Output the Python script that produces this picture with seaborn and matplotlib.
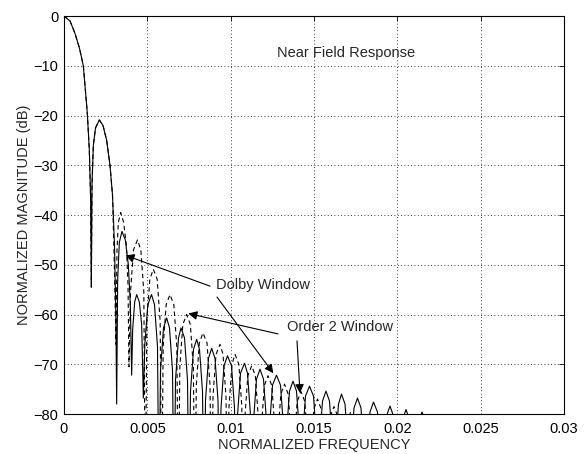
import matplotlib
matplotlib.use("Agg")
import matplotlib.pyplot as plt
import seaborn as sns

# values (normalized frequency, dB); nulls below -80 set to -100
dolby_f = [
    0, 0.00036, 0.00066, 0.00093, 0.00116, 0.0014, 0.00152, 0.0016, 0.00164,
    0.00168, 0.00176, 0.00189, 0.00212, 0.00234, 0.00256, 0.00276, 0.00291, 0.00303, 0.00311, 0.00316,
    0.00322, 0.00332, 0.00348, 0.00368, 0.00386, 0.00398, 0.00406,
    0.00412, 0.00424, 0.00436, 0.00452, 0.00466, 0.00476,
    0.00485, 0.00503, 0.00525, 0.00543, 0.00561, 0.0057,
    0.00579, 0.00597, 0.00616, 0.00633, 0.00651, 0.0066,
    0.00669, 0.00687, 0.00702, 0.00723, 0.00741, 0.0075,
    0.00759, 0.00777, 0.00796, 0.00813, 0.00831, 0.0084,
    0.00849, 0.00867, 0.00886, 0.00906, 0.00924, 0.00933,
    0.00942, 0.0096, 0.00981, 0.01005, 0.01023, 0.01032,
    0.01041, 0.01059, 0.01083, 0.01101, 0.01119, 0.01128,
    0.01137, 0.01155, 0.01176, 0.01197, 0.01215, 0.01224,
    0.01233, 0.01251, 0.01275, 0.01299, 0.01317, 0.01326,
    0.01335, 0.01353, 0.01374, 0.01395, 0.01413, 0.01422,
    0.01431, 0.01449, 0.01473, 0.01497, 0.01515, 0.01524,
    0.01533, 0.01551, 0.01572, 0.01593, 0.01611, 0.0162,
    0.01629, 0.01647, 0.01665, 0.01686, 0.01704, 0.01713,
    0.01722, 0.0174, 0.01761, 0.01782, 0.018, 0.01809,
    0.01818, 0.01836, 0.01857, 0.01881, 0.01899, 0.01908,
    0.01917, 0.01935, 0.01956, 0.01977, 0.01995, 0.02004,
    0.02013, 0.02031, 0.02052, 0.02073, 0.02091, 0.021,
    0.02109, 0.02127, 0.02148, 0.02169, 0.02187, 0.02196,
    0.03,
]
dolby_db = [
    0, -1, -3.5, -6.5, -10, -19.6, -27, -37, -54.5,
    -34, -26, -22.5, -20.9, -22, -25, -30, -36, -46, -60, -78,
    -53, -45.5, -43.3, -45, -50, -58, -72.2,
    -63, -57.5, -56, -57.5, -62, -76.8,
    -66, -58, -56, -58, -66.5, -100,
    -71.2, -62.7, -60.7, -62.7, -71.2, -100,
    -73.2, -64.7, -62.7, -64.7, -73.2, -100,
    -75.5, -67, -65, -67, -75.5, -100,
    -77.3, -68.8, -66.8, -68.8, -77.3, -100,
    -78.8, -70.3, -68.3, -70.3, -78.8, -100,
    -80.3, -71.8, -69.8, -71.8, -80.3, -100,
    -81.5, -73, -71, -73, -81.5, -100,
    -82.7, -74.2, -72.2, -74.2, -82.7, -100,
    -83.9, -75.4, -73.4, -75.4, -83.9, -100,
    -84.9, -76.4, -74.4, -76.4, -84.9, -100,
    -85.9, -77.4, -75.4, -77.4, -85.9, -100,
    -86.5, -78, -76, -78, -86.5, -100,
    -87.3, -78.8, -76.8, -78.8, -87.3, -100,
    -88.1, -79.6, -77.6, -79.6, -88.1, -100,
    -88.9, -80.4, -78.4, -80.4, -88.9, -100,
    -89.6, -81.1, -79.1, -81.1, -89.6, -100,
    -90.1, -81.6, -79.6, -81.6, -90.1, -100,
    -100,
]

order2_f = [
    0, 0.00036, 0.00066, 0.00093, 0.00116, 0.0014, 0.00152, 0.0016, 0.00164,
    0.00168, 0.00176, 0.00189, 0.00212, 0.00234, 0.00256, 0.00276, 0.00291, 0.00302, 0.00312,
    0.00318, 0.00326, 0.0034, 0.00358, 0.00374, 0.00384, 0.0039,
    0.00399, 0.00417, 0.00441, 0.00461, 0.00479, 0.00488,
    0.00497, 0.00515, 0.00536, 0.00559, 0.00577, 0.00586,
    0.00595, 0.00613, 0.00636, 0.00659, 0.00677, 0.00686,
    0.00695, 0.00713, 0.00736, 0.00758, 0.00776, 0.00785,
    0.00794, 0.00812, 0.00834, 0.00858, 0.00876, 0.00885,
    0.00894, 0.00912, 0.00936, 0.00954, 0.00972, 0.00981,
    0.0099, 0.01008, 0.01026, 0.01049, 0.01067, 0.01076,
    0.01085, 0.01103, 0.01126, 0.01148, 0.01166, 0.01175,
    0.01184, 0.01202, 0.01224, 0.01247, 0.01265, 0.01274,
    0.01283, 0.01301, 0.01323, 0.01345, 0.01363, 0.01372,
    0.01381, 0.01399, 0.01422, 0.01445, 0.01463, 0.01472,
    0.01481, 0.01499, 0.01521, 0.01543, 0.01561, 0.0157,
    0.01579, 0.01597, 0.0162, 0.01643, 0.01661, 0.0167,
    0.01679, 0.01697, 0.01719, 0.01743, 0.01761, 0.0177,
    0.03,
]
order2_db = [
    0, -1, -3.5, -6.5, -10, -19.6, -27, -37, -54.5,
    -34, -26, -22.5, -20.9, -22, -25, -30, -36, -50, -66,
    -47, -41.5, -39.5, -41.5, -46, -54, -70.5,
    -55.5, -47, -45, -47, -55.5, -100,
    -61.4, -52.9, -50.9, -52.9, -61.4, -100,
    -66.5, -58, -56, -58, -66.5, -100,
    -70.5, -62, -60, -62, -70.5, -100,
    -74.2, -65.7, -63.7, -65.7, -74.2, -100,
    -76.5, -68, -66, -68, -76.5, -100,
    -78.5, -70, -68, -70, -78.5, -100,
    -80.8, -72.3, -70.3, -72.3, -80.8, -100,
    -82.8, -74.3, -72.3, -74.3, -82.8, -100,
    -84.5, -76, -74, -76, -84.5, -100,
    -86, -77.5, -75.5, -77.5, -86, -100,
    -87.5, -79, -77, -79, -87.5, -100,
    -89, -80.5, -78.5, -80.5, -89, -100,
    -90.2, -81.7, -79.7, -81.7, -90.2, -100,
    -100,
]

x_ticks = [0, 0.005, 0.01, 0.015, 0.02, 0.025, 0.03]
x_labels = ["0", "0.005", "0.01", "0.015", "0.02", "0.025", "0.03"]
y_ticks = [0, -10, -20, -30, -40, -50, -60, -70, -80]

sns.set_style("white")
plt.rcParams["font.family"] = ["Liberation Sans", "DejaVu Sans"]

fig = plt.figure(figsize=(5.84, 4.54), dpi=100)
ax = fig.add_axes([64 / 584, 40 / 454, 500 / 584, 398 / 454])

sns.lineplot(x=order2_f, y=order2_db, estimator=None, sort=False, color="k",
             linewidth=0.8, linestyle=(0, (4, 3)), ax=ax)
sns.lineplot(x=dolby_f, y=dolby_db, estimator=None, sort=False, color="k",
             linewidth=0.8, ax=ax)

ax.set_xlim(0, 0.03)
ax.set_ylim(-80, 0)
ax.set_xticks(x_ticks)
ax.set_xticklabels(x_labels)
ax.set_yticks(y_ticks)
ax.grid(True, color="k", linestyle=(0, (1, 3)), linewidth=0.6)
for s in ax.spines.values():
    s.set_visible(True)
    s.set_color("k")
    s.set_linewidth(0.8)
ax.tick_params(direction="in", length=3.5, width=0.6, top=True, right=True,
               labelsize=10.5, colors="k")
ax.tick_params(axis="x", pad=6)
ax.tick_params(axis="y", pad=4)
ax.set_xlabel("NORMALIZED FREQUENCY", fontsize=10.5, labelpad=1.5)
ax.set_ylabel("NORMALIZED MAGNITUDE (dB)", fontsize=10.5, labelpad=2)

ax.text(0.01278, -7.4, "Near Field Response", fontsize=10.5, ha="left", va="center")
ax.text(0.00912, -54.1, "Dolby Window", fontsize=10.5, ha="left", va="center")
ax.text(0.01338, -62.5, "Order 2 Window", fontsize=10.5, ha="left", va="center")

arrow = dict(arrowstyle="-|>", color="k", lw=0.8, mutation_scale=13, shrinkA=0, shrinkB=0)
ax.annotate("", xy=(0.00369, -48.1), xytext=(0.00876, -54.3), arrowprops=arrow)
ax.annotate("", xy=(0.01256, -71.8), xytext=(0.00918, -56.5), arrowprops=arrow)
ax.annotate("", xy=(0.00746, -59.8), xytext=(0.01284, -63.9), arrowprops=arrow)
ax.annotate("", xy=(0.01416, -75.8), xytext=(0.01398, -65.3), arrowprops=arrow)

fig.savefig("out.png", dpi=100)
